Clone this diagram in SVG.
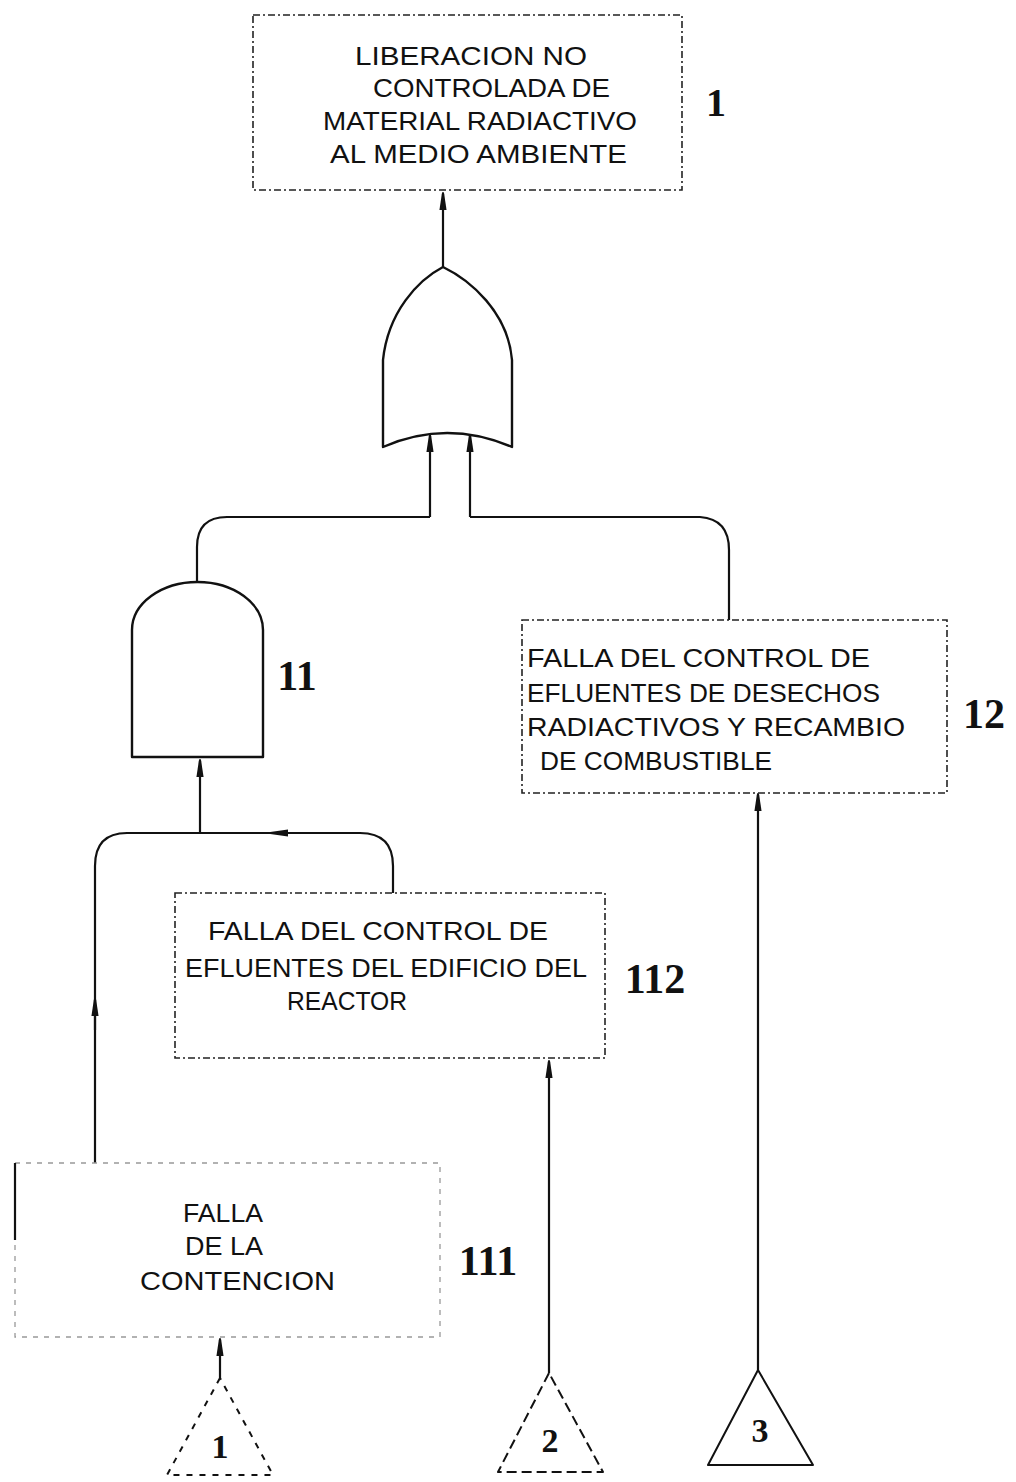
<svg xmlns="http://www.w3.org/2000/svg" width="1016" height="1482" viewBox="0 0 1016 1482">
<defs>
<style>
.box{fill:none;stroke:#222;stroke-width:1.6;stroke-dasharray:7 3 2 3}
.faint{fill:none;stroke:#999;stroke-width:1.3;stroke-dasharray:5 6}
.gate{fill:none;stroke:#111;stroke-width:2.4;stroke-linejoin:round}
.wire{fill:none;stroke:#111;stroke-width:2.2}
.txt{font-family:"Liberation Sans",Arial,sans-serif;font-size:25px;fill:#111}
.num{font-family:"Liberation Serif","Times New Roman",serif;font-weight:bold;fill:#111}
.tri{fill:none;stroke:#111;stroke-width:2;stroke-linejoin:round}
</style>
<marker id="arr" viewBox="0 0 10 10" refX="9" refY="5" markerWidth="18" markerHeight="9" preserveAspectRatio="none" orient="auto-start-reverse" markerUnits="userSpaceOnUse">
<path d="M0,1 L10,4 L10,6 L0,9 z" fill="#111"/>
</marker>
</defs>
<rect width="1016" height="1482" fill="#fff"/>

<g id="connectors">
<path class="wire" d="M443,267 L443,194" marker-end="url(#arr)"/>
<path class="wire" d="M430,517 L430,436" marker-end="url(#arr)"/>
<path class="wire" d="M470,517 L470,436" marker-end="url(#arr)"/>
<path class="wire" d="M430,517 L227,517 Q197,517 197,547 L197,582"/>
<path class="wire" d="M470,517 L700,517 Q729,519 729,550 L729,620"/>
<path class="wire" d="M200,833 L200,761" marker-end="url(#arr)"/>
<path class="wire" d="M393,893 L393,866 Q393,833 360,833 L272,833" marker-end="url(#arr)"/>
<path class="wire" d="M285,833 L127,833 Q95,833 95,866 L95,1163"/>
<path class="wire" d="M95,1030 L95,1000" marker-end="url(#arr)"/>
<path class="wire" d="M758,1370 L758,795" marker-end="url(#arr)"/>
<path class="wire" d="M549,1373 L549,1062" marker-end="url(#arr)"/>
<path class="wire" d="M220,1378 L220,1340" marker-end="url(#arr)"/>
</g>

<g id="node-1">
<rect class="box" x="253" y="15" width="429" height="175"/>
<text class="txt" x="355" y="65" textLength="232" lengthAdjust="spacingAndGlyphs">LIBERACION NO</text>
<text class="txt" x="373" y="97" textLength="237" lengthAdjust="spacingAndGlyphs">CONTROLADA DE</text>
<text class="txt" x="323" y="130" textLength="314" lengthAdjust="spacingAndGlyphs">MATERIAL RADIACTIVO</text>
<text class="txt" x="330" y="163" textLength="297" lengthAdjust="spacingAndGlyphs">AL MEDIO AMBIENTE</text>
<text class="num" x="716" y="116" font-size="40" text-anchor="middle">1</text>
</g>

<g id="gate-or">
<path class="gate" d="M443,267 C418,280 388,312 383,360 L383,447 Q447,419 512,447 L512,360 C508,312 470,280 443,267 Z"/>
</g>

<g id="gate-and-11">
<path class="gate" d="M132,757 L132,630 A65.5,48 0 0 1 263,630 L263,757 Z"/>
<text class="num" x="297" y="690" font-size="42" text-anchor="middle">11</text>
</g>

<g id="node-12">
<rect class="box" x="522" y="620" width="425" height="173"/>
<text class="txt" x="527" y="667" textLength="343" lengthAdjust="spacingAndGlyphs">FALLA DEL CONTROL DE</text>
<text class="txt" x="527" y="702" textLength="353" lengthAdjust="spacingAndGlyphs">EFLUENTES DE DESECHOS</text>
<text class="txt" x="527" y="736" textLength="378" lengthAdjust="spacingAndGlyphs">RADIACTIVOS Y RECAMBIO</text>
<text class="txt" x="540" y="770" textLength="232" lengthAdjust="spacingAndGlyphs">DE COMBUSTIBLE</text>
<text class="num" x="984" y="728" font-size="42" text-anchor="middle">12</text>
</g>

<g id="node-112">
<rect class="box" x="175" y="893" width="430" height="165"/>
<text class="txt" x="208" y="940" textLength="340" lengthAdjust="spacingAndGlyphs">FALLA DEL CONTROL DE</text>
<text class="txt" x="185" y="977" textLength="402" lengthAdjust="spacingAndGlyphs">EFLUENTES DEL EDIFICIO DEL</text>
<text class="txt" x="287" y="1010" textLength="120" lengthAdjust="spacingAndGlyphs">REACTOR</text>
<text class="num" x="655" y="993" font-size="42" text-anchor="middle">112</text>
</g>

<g id="node-111">
<rect class="faint" x="15" y="1163" width="425" height="174"/>
<path class="wire" d="M15,1163 L15,1240" stroke-width="2"/>
<text class="txt" x="183" y="1222" textLength="80" lengthAdjust="spacingAndGlyphs">FALLA</text>
<text class="txt" x="185" y="1255" textLength="78" lengthAdjust="spacingAndGlyphs">DE LA</text>
<text class="txt" x="140" y="1290" textLength="195" lengthAdjust="spacingAndGlyphs">CONTENCION</text>
<text class="num" x="488" y="1275" font-size="42" text-anchor="middle">111</text>
</g>

<g id="transfer-1">
<path class="tri" d="M220,1378 L167,1475 L273,1475 Z" stroke-dasharray="6 7" stroke="#444"/>
<text class="num" x="220" y="1458" font-size="34" text-anchor="middle">1</text>
</g>

<g id="transfer-2">
<path class="tri" d="M549,1373 L498,1472 L603,1472 Z" stroke-dasharray="10 5"/>
<text class="num" x="550" y="1452" font-size="34" text-anchor="middle">2</text>
</g>

<g id="transfer-3">
<path class="tri" d="M758,1370 L708,1465 L813,1465 Z"/>
<text class="num" x="760" y="1442" font-size="34" text-anchor="middle">3</text>
</g>
</svg>
